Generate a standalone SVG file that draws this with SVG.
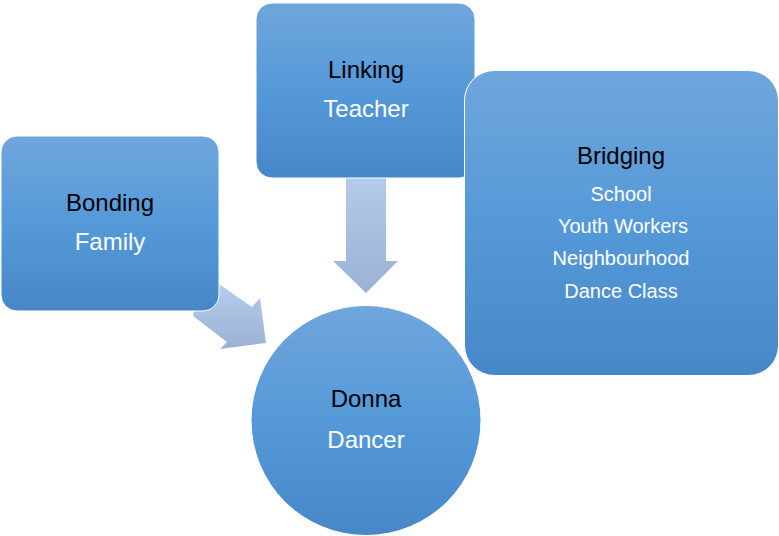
<svg xmlns="http://www.w3.org/2000/svg" width="779" height="536" viewBox="0 0 779 536">
<defs>
<linearGradient id="nodeGrad" x1="0" y1="0" x2="0" y2="1">
<stop offset="0" stop-color="#6fa6dc"/>
<stop offset="0.5" stop-color="#5599d8"/>
<stop offset="1" stop-color="#4787c8"/>
</linearGradient>
<linearGradient id="arrowGrad" x1="0" y1="0" x2="0" y2="1">
<stop offset="0" stop-color="#b5cdec"/>
<stop offset="1" stop-color="#9ab1d4"/>
</linearGradient>
<linearGradient id="arrowGrad2" gradientUnits="userSpaceOnUse" x1="0" y1="285" x2="0" y2="350">
<stop offset="0" stop-color="#b5cdec"/>
<stop offset="1" stop-color="#9ab1d4"/>
</linearGradient>
</defs>
<style>
.node { fill: url(#nodeGrad); stroke: #ffffff; stroke-width: 1; }
.title { font-family: "Liberation Sans", Arial, sans-serif; font-size: 24px; fill: #000000; text-anchor: middle; }
.sub { font-family: "Liberation Sans", Arial, sans-serif; font-size: 24px; fill: #ffffff; text-anchor: middle; }
.item { font-family: "Liberation Sans", Arial, sans-serif; font-size: 20px; fill: #ffffff; text-anchor: middle; }
</style>
<g id="connectors">
<polygon points="346,170 386,170 386,261 398,261 366,293 333,261 346,261" fill="url(#arrowGrad)"/>
<polygon points="200,280 219,284 252,307 260,298 266,343 220,349 227,342 193,316" fill="url(#arrowGrad2)"/>
</g>
<g id="bonding">
<rect class="node" x="1" y="136" width="218" height="175" rx="16"/>
<text class="title" x="110" y="211">Bonding</text>
<text class="sub" x="110" y="250">Family</text>
</g>
<g id="linking">
<rect class="node" x="256" y="3" width="219" height="175" rx="16"/>
<text class="title" x="366" y="78">Linking</text>
<text class="sub" x="366" y="117">Teacher</text>
</g>
<g id="bridging">
<rect class="node" x="464.5" y="70.5" width="314" height="305" rx="30"/>
<text class="title" x="621" y="164">Bridging</text>
<text class="item" x="621" y="201">School</text>
<text class="item" x="623" y="233">Youth Workers</text>
<text class="item" x="621" y="265">Neighbourhood</text>
<text class="item" x="621" y="298">Dance Class</text>
</g>
<g id="donna">
<circle class="node" cx="366" cy="420.5" r="115"/>
<text class="title" x="366" y="407">Donna</text>
<text class="sub" x="366" y="448">Dancer</text>
</g>
</svg>
